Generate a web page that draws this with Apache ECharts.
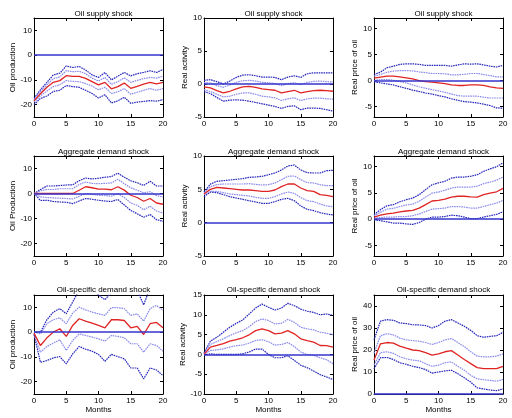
<!DOCTYPE html>
<html><head><meta charset="utf-8">
<script src="https://cdn.jsdelivr.net/npm/echarts@6/dist/echarts.min.js"></script>
<style>html,body{margin:0;padding:0;background:#fff}#c{width:512px;height:418px}</style>
</head><body><div id="c"></div>
<script>
const months = [0,1,2,3,4,5,6,7,8,9,10,11,12,13,14,15,16,17,18,19,20];
const xTicks = [0,5,10,15,20];
const panelTitles = ['Oil supply shock','Oil supply shock','Oil supply shock','Aggregate demand shock','Aggregate demand shock','Aggregate demand shock','Oil-specific demand shock','Oil-specific demand shock','Oil-specific demand shock'];
const yNames = ['Oil production','Real activity','Real price of oil','Oil Production','Real activity','Real price of oil','Oil production','Real activity','Real price of oil'];
const yMins = [-25,-5,-7,-25,-5,-7,-25,-10,0];
const yMaxs = [15,10,12,15,10,12,15,15,45];
const yTicks = [[-20,-10,0,10],[-5,0,5,10],[-5,0,5,10],[-20,-10,0,10],[-5,0,5,10],[-5,0,5,10],[-20,-10,0,10],[-10,-5,0,5,10,15],[0,10,20,30,40]];
const xName = 'Months';

// Oil supply shock -> oil production
const supProdMid = [-18.5,-15.6,-13,-11,-10.3,-8.3,-8.6,-8.6,-9.4,-10.7,-12,-11,-13.6,-12.7,-11.3,-13.4,-12.6,-11.7,-11,-11.6,-11];
const supProdInHi = [-18,-14.8,-12,-9.5,-8.8,-6.3,-6.7,-6.5,-7.5,-9.3,-10.5,-9,-11.8,-10.7,-9.2,-11,-10.2,-9.5,-9,-9.3,-8.5];
const supProdInLo = [-19,-16.5,-14.5,-12.7,-12,-10.3,-10.6,-10.7,-11.5,-12.5,-14,-13,-15.5,-14.8,-13.5,-15.8,-15,-14.2,-13.5,-14.2,-13.5];
const supProdOutHi = [-17.5,-14,-11,-8,-7.3,-4.4,-5,-4.6,-6,-8,-9,-7,-10,-8.5,-7,-8.4,-7.5,-7,-6.3,-7,-5.8];
const supProdOutLo = [-20,-17.5,-16.5,-14.7,-14.2,-12.3,-12.7,-13,-14.2,-15.5,-17.3,-16,-19.3,-18.5,-17,-19.5,-19,-18.7,-18.4,-18.6,-18];
// Oil supply shock -> real activity
const supActMid = [-0.45,-0.6,-1,-1.35,-1.1,-0.75,-0.45,-0.35,-0.5,-0.75,-0.85,-0.95,-1.35,-1.15,-0.95,-1.35,-1.15,-1,-0.95,-1,-1.1];
const supActInHi = [0.25,0.15,-0.25,-0.5,-0.15,0.25,0.5,0.55,0.45,0.25,0.2,0.05,-0.25,0.05,0.2,-0.1,0.25,0.4,0.45,0.35,0.3];
const supActInLo = [-0.85,-1.15,-1.55,-1.95,-1.85,-1.55,-1.35,-1.35,-1.55,-1.85,-1.95,-2.1,-2.5,-2.25,-2.1,-2.5,-2.25,-2.15,-2.15,-2.25,-2.3];
const supActOutHi = [0.55,0.65,0.35,0,0.45,1,1.35,1.4,1.25,1.05,1.05,1,0.65,1.05,1.25,1,1.55,1.7,1.7,1.7,1.7];
const supActOutLo = [-1.15,-1.45,-2.05,-2.6,-2.45,-2.4,-2.45,-2.6,-2.8,-3,-3.2,-3.4,-3.7,-3.4,-3.3,-3.9,-3.65,-3.65,-3.7,-3.9,-4.1];
// Oil supply shock -> real price of oil
const supPriceMid = [0.45,0.65,0.85,0.85,0.7,0.5,0.3,0,-0.2,-0.3,-0.45,-0.6,-0.85,-0.95,-0.95,-0.85,-0.85,-0.95,-1.2,-1.4,-1.5];
const supPriceInHi = [0.85,1.15,1.6,1.8,1.9,1.9,1.85,1.65,1.5,1.35,1.35,1.3,1.1,1.1,1.2,1.35,1.35,1.15,0.95,0.7,0.7];
const supPriceInLo = [0,0.2,0.2,0.05,-0.2,-0.45,-0.85,-1.2,-1.5,-1.75,-2,-2.25,-2.6,-2.9,-3,-3,-3,-3.2,-3.35,-3.35,-3.35];
const supPriceOutHi = [1.15,1.6,2.45,2.75,3.1,3.2,3.2,3.1,2.9,2.9,2.9,2.9,2.75,3,3.2,3.15,3.2,3,2.75,2.6,2.9];
const supPriceOutLo = [-0.2,-0.45,-0.65,-0.85,-1.2,-1.5,-1.85,-2.1,-2.4,-2.6,-2.9,-3.15,-3.5,-3.8,-4.05,-4.15,-4.3,-4.55,-4.8,-5.25,-5.3];
// Aggregate demand shock -> oil production
const adProdMid = [0,0,0,0,0,0,0,1.3,2.7,2.3,1.75,1.75,1.5,2.7,1.35,-0.7,-1.6,-3.1,-2,-3.8,-4.3];
const adProdInHi = [0,1.1,1.6,1.6,1.9,1.9,1.9,3.65,4.6,4.05,3.9,4.05,4.2,5.7,3.9,2.3,1.35,0.3,0.7,-0.8,-1.35];
const adProdInLo = [0,-1.35,-1.6,-1.75,-1.9,-2,-2.2,-1.1,0,-0.4,-0.7,-0.8,-1.1,0,-1.6,-3.8,-4.7,-6.5,-5.1,-7,-7.8];
const adProdOutHi = [0,1.6,3,3,3.2,3.4,3.5,5.1,6.2,5.8,6.1,6.5,6.8,8.1,6.5,5.1,4.3,3.2,4.9,3,3];
const adProdOutLo = [0,-2.8,-2.7,-3.2,-3.4,-3.5,-4.05,-3,-2,-2.3,-2.7,-3,-3.2,-2.4,-4.6,-6.8,-8.1,-9.5,-8.4,-10.5,-11.1];
// Aggregate demand shock -> real activity
const adActMid = [4.3,5,5.3,5.2,5.1,5,4.9,4.9,4.8,4.7,4.7,4.9,5.4,5.8,5.8,5.2,4.8,4.7,4.2,4.1,3.9];
const adActInHi = [4.4,5.4,5.7,5.8,5.8,5.8,5.8,5.85,5.75,5.65,5.7,5.95,6.45,6.95,7,6.45,6,5.95,5.7,5.55,5.55];
const adActInLo = [4.2,4.7,4.7,4.5,4.3,4.2,4.1,4,3.8,3.65,3.65,3.9,4.3,4.6,4.4,3.75,3.3,3.15,2.8,2.5,2.4];
const adActOutHi = [4.6,5.8,6.2,6.3,6.4,6.5,6.6,6.8,6.85,6.95,7.2,7.45,7.9,8.5,8.65,7.9,7.5,7.45,7.45,7.8,7.85];
const adActOutLo = [3.9,4.6,4.5,4.2,3.9,3.7,3.5,3.3,3.1,2.9,2.9,3.15,3.5,3.65,3.3,2.5,2,1.8,1.5,1.3,1.15];
// Aggregate demand shock -> real price of oil
const adPriceMid = [0.4,0.75,1,1.15,1.4,1.55,1.65,2.1,2.75,3.45,3.55,3.8,4.2,4.35,4.35,4.25,4.2,4.65,4.95,5.2,5.85];
const adPriceInHi = [0.65,1.3,1.9,2.05,2.4,2.7,2.85,3.4,4.2,4.95,5.15,5.5,5.9,6.1,6.1,6.1,6.25,6.75,7.05,7.4,8];
const adPriceInLo = [0.2,0.3,0.4,0.4,0.5,0.5,0.65,1,1.45,1.9,2,2.1,2.4,2.4,2.3,2.1,2.1,2.4,2.75,3.05,3.55];
const adPriceOutHi = [0.85,1.8,2.55,2.75,3.3,3.7,4,4.65,5.6,6.55,6.9,7.2,7.8,8,8,8.15,8.45,9.1,9.55,9.95,10.7];
const adPriceOutLo = [-0.1,-0.3,-0.5,-0.75,-0.75,-0.9,-1,-0.65,0,0.4,0.4,0.5,0.75,0.65,0.4,0.1,0.1,0.4,0.65,0.9,1.4];
// Oil-specific demand shock -> oil production
const osProdMid = [-0.4,-5.4,-2.3,0,1.35,-1.75,2.7,5.4,4.45,3.65,2.7,1.75,5,5,4.7,1.75,2.3,-0.95,3.4,3.9,1.75];
const osProdInHi = [0,-0.7,3.4,5,5.8,3.4,7.7,10.1,9,8.1,7.4,6.75,9.9,9.9,9.5,6.75,7.4,4.45,9.5,10.8,8.8];
const osProdInLo = [-0.7,-8.1,-5.8,-4.45,-3.1,-7.4,-3.4,-0.7,-1.35,-2,-2.7,-3.65,-1.35,-1.75,-2.3,-4.7,-4.7,-8.1,-4.7,-5.4,-7.7];
const osProdOutHi = [0,0,5,8.1,9.5,7.4,12.2,17,18,17,15,13.1,16,18,19,18,17,11,18,19,17];
const osProdOutLo = [-0.95,-12.2,-11.5,-10.4,-9.9,-12.8,-8.8,-5.8,-6.9,-7.7,-9,-11.8,-9,-9.9,-10.8,-14.5,-14.5,-18.9,-14.5,-15.3,-17.6];
// Oil-specific demand shock -> real activity
const osActMid = [0,1.85,2.25,2.7,3.35,3.75,4.2,4.95,6,6.45,6,5.2,5.35,6,5.2,3.95,3.5,3.1,2.25,2.2,1.85];
const osActInHi = [0.15,2.5,3.25,3.95,4.75,5.45,6,7,8.3,8.95,8.55,7.7,7.85,8.85,8.1,6.85,6.45,6.2,5.6,5.35,5];
const osActInLo = [0,1,1.15,1.4,1.85,2.2,2.35,2.85,3.5,3.7,3.2,2.35,2.5,3,2,0.6,0,-0.25,-0.85,-1.35,-2.35];
const osActOutHi = [0.35,3.35,4.35,5.6,6.85,7.85,8.7,10.2,11.7,12.7,11.9,11.2,11.7,12.9,12.3,11.45,10.9,10.6,10,10.2,9.9];
const osActOutLo = [-0.15,0.15,0,0,0,0,0.15,0.6,1.35,1.35,0,-0.85,-0.85,-0.35,-1.5,-2.75,-3.35,-4.2,-5.1,-5.7,-6.35];
// Oil-specific demand shock -> real price of oil
const osPriceMid = [15.4,22.8,23.4,23.1,21.8,20.8,20,19.7,18.8,17.7,18.2,19.2,19.7,17.7,15.7,13.8,12,11.5,11.5,11.5,12.6];
const osPriceInHi = [18.5,26.5,27.4,26.9,25.4,24.6,24.3,24,23.4,22.5,23.4,24.6,25.2,23.4,21.5,19.2,17.2,16.9,16.9,17.2,18.2];
const osPriceInLo = [13.1,18.8,19.2,18.5,16.9,16,15.4,15.1,13.8,12.6,13.1,14.2,14.6,12.6,10.8,8.5,6.9,6.5,6.2,5.8,6.6];
const osPriceOutHi = [24.6,33.1,33.8,33.5,32.3,32,31.5,31.4,31.1,30,31.1,33.1,33.8,32.3,30.8,28.9,26.5,25.8,26.2,26.5,28];
const osPriceOutLo = [11.5,16.5,16.6,15.7,14.2,13.5,12.6,12,11.1,9.5,10,10.5,10.8,9.2,7.4,5.4,2.8,2.3,1.8,1.5,2.3];

const panels = [
  [supProdMid,supProdInHi,supProdInLo,supProdOutHi,supProdOutLo],
  [supActMid,supActInHi,supActInLo,supActOutHi,supActOutLo],
  [supPriceMid,supPriceInHi,supPriceInLo,supPriceOutHi,supPriceOutLo],
  [adProdMid,adProdInHi,adProdInLo,adProdOutHi,adProdOutLo],
  [adActMid,adActInHi,adActInLo,adActOutHi,adActOutLo],
  [adPriceMid,adPriceInHi,adPriceInLo,adPriceOutHi,adPriceOutLo],
  [osProdMid,osProdInHi,osProdInLo,osProdOutHi,osProdOutLo],
  [osActMid,osActInHi,osActInLo,osActOutHi,osActOutLo],
  [osPriceMid,osPriceInHi,osPriceInLo,osPriceOutHi,osPriceOutLo]
];

const FONT = '"Liberation Sans", Arial, Helvetica, sans-serif';
const colLeft = [34, 204, 374], colWidth = 129;
const rowTop = [18, 156, 295], rowHeight = [99, 100, 99];
const titleTop = [5, 143, 281];
const yNameGap = [17, 14.5, 14.5, 17, 14.5, 14.5, 17, 17, 14.5];

const grid = [], xAxis = [], yAxis = [], series = [], title = [];
const tick = {show:true, inside:true, length:3, lineStyle:{color:'#000', width:1}};
const line = {show:true, onZero:false, lineStyle:{color:'#000', width:1}};
for (let p = 0; p < 9; p++) {
  const r = Math.floor(p/3), c = p % 3;
  grid.push({left: colLeft[c], top: rowTop[r], width: colWidth, height: rowHeight[r], containLabel:false});
  title.push({text: panelTitles[p], left: colLeft[c] + colWidth/2, top: titleTop[r], textAlign:'center',
    textStyle:{fontFamily:FONT, fontSize:8, fontWeight:'normal', color:'#000'}});
  const xa = {type:'value', gridIndex:p, min:0, max:20, position:'bottom',
    axisLine: line, axisTick: Object.assign({customValues:xTicks}, tick),
    axisLabel:{customValues:xTicks, fontFamily:FONT, fontSize:8, color:'#000', margin:3},
    splitLine:{show:false}};
  if (r === 2) { xa.name = xName; xa.nameLocation = 'middle'; xa.nameGap = 11;
    xa.nameTextStyle = {fontFamily:FONT, fontSize:8, color:'#000'}; }
  xAxis.push(xa);
  xAxis.push({type:'value', gridIndex:p, min:0, max:20, position:'top',
    axisLine: line, axisTick: Object.assign({customValues:xTicks}, tick),
    axisLabel:{show:false}, splitLine:{show:false}});
  yAxis.push({type:'value', gridIndex:p, min:yMins[p], max:yMaxs[p], position:'left',
    name: yNames[p], nameLocation:'middle', nameGap: yNameGap[p],
    nameTextStyle:{fontFamily:FONT, fontSize:8, color:'#000'},
    axisLine: line, axisTick: Object.assign({customValues:yTicks[p]}, tick),
    axisLabel:{customValues:yTicks[p], fontFamily:FONT, fontSize:8, color:'#000', margin:2},
    splitLine:{show:false}});
  yAxis.push({type:'value', gridIndex:p, min:yMins[p], max:yMaxs[p], position:'right',
    axisLine: line, axisTick: Object.assign({customValues:yTicks[p]}, tick),
    axisLabel:{show:false}, splitLine:{show:false}});
  const [mid, inHi, inLo, outHi, outLo] = panels[p];
  const mk = (arr, color, type, width, z) => ({
    type:'line', xAxisIndex: 2*p, yAxisIndex: 2*p, showSymbol:false, symbol:'none', clip:true,
    animation:false, z: z,
    data: months.map((m,i)=>[m, arr[i]]),
    lineStyle:{color, type, width}
  });
  series.push(mk(outHi, '#2626bc', [1.6,0.8], 1.2, 2));
  series.push(mk(outLo, '#2626bc', [1.6,0.8], 1.2, 2));
  series.push(mk(inHi, '#8a8aec', [1.6,0.8], 1.2, 2));
  series.push(mk(inLo, '#8a8aec', [1.6,0.8], 1.2, 2));
  const midS = mk(mid, '#e02424', 'solid', 1.3, 3);
  midS.markLine = {silent:true, symbol:'none', animation:false, label:{show:false},
    lineStyle:{color:'#3434cc', type:'solid', width:1.7}, data:[{yAxis:0}]};
  series.push(midS);
}

const chart = echarts.init(document.getElementById('c'), null, {renderer:'canvas'});
chart.setOption({animation:false, backgroundColor:'#fff', title, grid, xAxis, yAxis, series});
</script>
</body></html>
